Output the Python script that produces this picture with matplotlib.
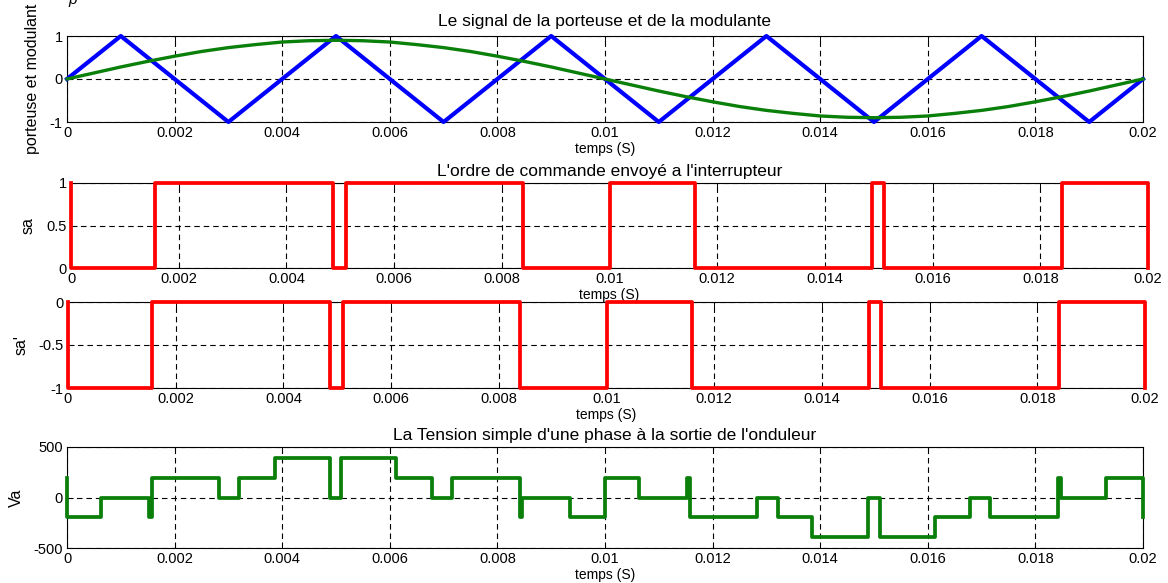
import matplotlib
matplotlib.use("Agg")
import matplotlib.pyplot as plt
from matplotlib.ticker import FuncFormatter

plt.rcParams['font.family'] = ['Liberation Sans', 'DejaVu Sans']
plt.rcParams['axes.unicode_minus'] = False

# porteuse triangulaire (sommets)
t_port = [0, 0.001, 0.003, 0.005, 0.007, 0.009, 0.011, 0.013, 0.015, 0.017, 0.019, 0.02]
v_port = [0, 1, -1, 1, -1, 1, -1, 1, -1, 1, -1, 0]

# modulante, un point toutes les 0.5 ms
t_mod = [i * 0.0005 for i in range(41)]
v_mod = [0, 0.14, 0.28, 0.41, 0.53, 0.64, 0.73, 0.80, 0.86, 0.89, 0.90,
         0.89, 0.86, 0.80, 0.73, 0.64, 0.53, 0.41, 0.28, 0.14, 0,
         -0.14, -0.28, -0.41, -0.53, -0.64, -0.73, -0.80, -0.86, -0.89, -0.90,
         -0.89, -0.86, -0.80, -0.73, -0.64, -0.53, -0.41, -0.28, -0.14, 0]

# ordre de commande sa (instants de commutation)
t_sa = [0, 0, 0.00156, 0.00487, 0.00510, 0.00840, 0.01001, 0.01159,
        0.01487, 0.01510, 0.01840, 0.02, 0.02]
v_sa = [1, 0, 1, 0, 1, 0, 1, 0, 1, 0, 1, 0, 0]
v_sa2 = [v - 1 for v in v_sa]

# tension simple Va
t_va = [0, 0, 0.00064, 0.00153, 0.00158, 0.00283, 0.00320, 0.00386, 0.00489,
        0.00509, 0.00612, 0.00679, 0.00716, 0.00842, 0.00846, 0.00935, 0.01000,
        0.01064, 0.01153, 0.01158, 0.01282, 0.01321, 0.01385, 0.01489, 0.01511,
        0.01613, 0.01678, 0.01715, 0.01842, 0.01848, 0.01932, 0.02, 0.02]
v_va = [193, -193, 0, -193, 193, 0, 193, 387, 0, 387, 193, 0, 193, -193, 0,
        -193, 193, 0, 193, -193, 0, -193, -387, 0, -387, -193, 0, -193, 193,
        0, 193, -193, -193]

W, H = 1168, 583
fig = plt.figure(figsize=(W / 100, H / 100), dpi=100)

fmt = FuncFormatter(lambda v, p: '%g' % round(v, 4))


def box(l, r, t, b):
    return [l / W, (H - b) / H, (r - l) / W, (b - t) / H]


def style(ax, yticks, ylabel, ylab_x):
    ax.set_xlim(0, 0.02)
    ax.set_xticks([i * 0.002 for i in range(11)])
    ax.xaxis.set_major_formatter(fmt)
    ax.set_ylim(yticks[0], yticks[-1])
    ax.set_yticks(yticks)
    ax.yaxis.set_major_formatter(fmt)
    ax.grid(True, color='k', linestyle=(0, (5, 3.5)), linewidth=0.8)
    ax.tick_params(direction='in', length=4, width=0.7, labelsize=10.5,
                   top=True, right=True, pad=3)
    for s in ax.spines.values():
        s.set_linewidth(0.8)
    ax.set_xlabel('temps (S)', fontsize=10, labelpad=1)
    ax.set_ylabel(ylabel, fontsize=11.5)
    ax.yaxis.set_label_coords(ylab_x, 0.5)


ax1 = fig.add_axes(box(67, 1143, 36, 122))
ax1.plot(t_port, v_port, color='#0000ff', lw=3, clip_on=False, zorder=3)
ax1.plot(t_mod, v_mod, color='#0a800a', lw=2.4, clip_on=False, zorder=3)
style(ax1, [-1, 0, 1], 'porteuse et modulant', -27 / 1076)
ax1.set_title('Le signal de la porteuse et de la modulante', fontsize=12.5, pad=7)

ax2 = fig.add_axes(box(71, 1148, 183, 268))
ax2.plot(t_sa, v_sa, color='#ff0000', lw=2.7, drawstyle='steps-post',
         clip_on=False, zorder=3)
style(ax2, [0, 0.5, 1], 'sa', -35 / 1077)
ax2.set_title("L'ordre de commande envoyé a l'interrupteur", fontsize=12.5, pad=5)

ax3 = fig.add_axes(box(68, 1145, 302, 388))
ax3.plot(t_sa, v_sa2, color='#ff0000', lw=2.7, drawstyle='steps-post',
         clip_on=False, zorder=3)
style(ax3, [-1, -0.5, 0], "sa'", -39 / 1077)

ax4 = fig.add_axes(box(67, 1143, 447, 548))
ax4.plot(t_va, v_va, color='#0a800a', lw=2.7, drawstyle='steps-post',
         clip_on=False, zorder=3)
style(ax4, [-500, 0, 500], 'Va', -43 / 1076)
ax4.set_title("La Tension simple d'une phase à la sortie de l'onduleur",
              fontsize=12.5, pad=5)

fig.text(68 / W, 1.0, 'p', fontsize=11, style='italic', va='center')

fig.savefig('out.png', dpi=100)
